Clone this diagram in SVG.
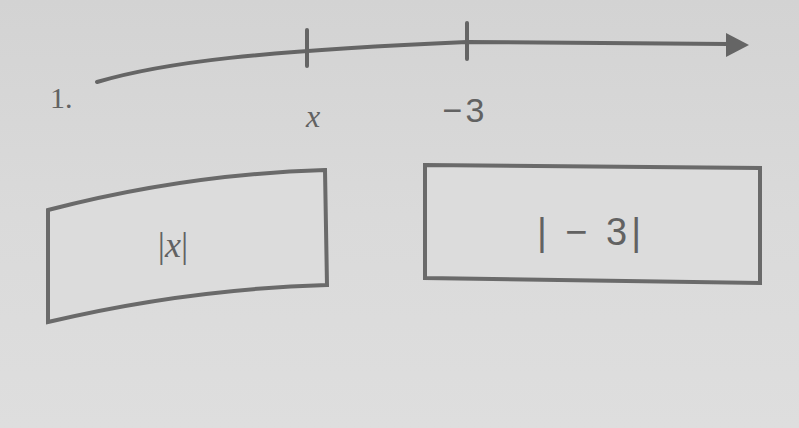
<svg xmlns="http://www.w3.org/2000/svg" width="799" height="428" viewBox="0 0 799 428">
  <defs>
    <linearGradient id="bg" x1="0" y1="0" x2="0" y2="1">
      <stop offset="0" stop-color="#d3d3d3"/>
      <stop offset="0.5" stop-color="#dadada"/>
      <stop offset="1" stop-color="#dedede"/>
    </linearGradient>
    <style>
      .ln { fill: none; stroke: #656565; stroke-width: 4; stroke-linecap: round; }
      .box { fill: #dcdcdc; stroke: #6a6a6a; stroke-width: 4; stroke-linejoin: miter; }
      .serif { font-family: "Liberation Serif", "DejaVu Serif", serif; fill: #626262; }
      .sans { font-family: "Liberation Sans", "DejaVu Sans", sans-serif; fill: #626262; }
    </style>
  </defs>
  <rect width="799" height="428" fill="url(#bg)"/>

  <text class="serif" x="50" y="108" font-size="30">1.</text>

  <g id="number-line">
    <path class="ln" d="M97,82 C165,62 260,51 467,42 L728,44"/>
    <polygon points="749,45 726,33 726,57" fill="#656565"/>
    <line class="ln" x1="307" y1="30" x2="307" y2="66" stroke-width="3"/>
    <line class="ln" x1="467" y1="23" x2="467" y2="59" stroke-width="3"/>
    <text class="serif" x="313" y="127" font-size="32" font-style="italic" text-anchor="middle">x</text>
    <text class="sans" x="465" y="122" font-size="34" letter-spacing="3" text-anchor="middle">−3</text>
  </g>

  <g id="box-abs-x">
    <path class="box" d="M48,210 Q186,174 325,170 L327,285 Q187,289 48,322 Z"/>
    <text class="serif" x="173" y="257" font-size="36" text-anchor="middle">|<tspan font-style="italic">x</tspan>|</text>
  </g>

  <g id="box-abs-neg3">
    <path class="box" d="M425,165 L760,168 L760,283 L425,278 Z"/>
    <text class="sans" x="591" y="245" font-size="38" letter-spacing="4" text-anchor="middle">| − 3|</text>
  </g>
</svg>
